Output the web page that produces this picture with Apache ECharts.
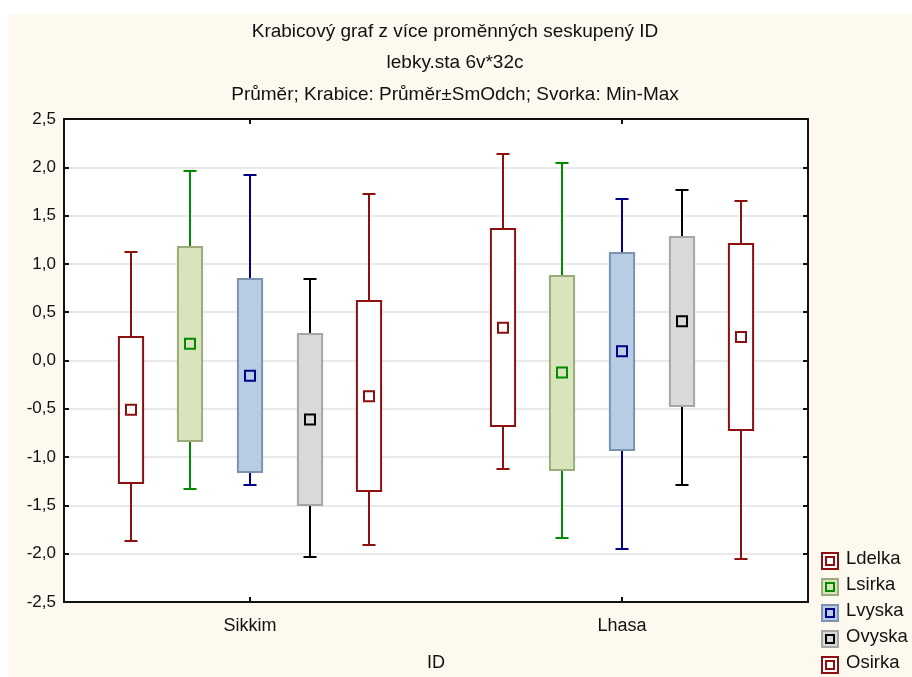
<!DOCTYPE html>
<html>
<head>
<meta charset="utf-8">
<script src="https://cdn.jsdelivr.net/npm/echarts@6/dist/echarts.min.js"></script>
<style>
  html, body { margin: 0; padding: 0; background: #fff; }
  #wrap { position: relative; width: 912px; height: 677px; background: #fff; overflow: hidden; }
  #panel { position: absolute; left: 8px; top: 14px; right: 0; bottom: 0; background: #fdf9ee; }
  #chart { position: absolute; left: 0; top: 0; width: 912px; height: 677px; }
</style>
</head>
<body>
<div id="wrap"><div id="panel"></div><div id="chart"></div></div>
<script>
// Groups on the x axis and the variables drawn inside each group
const categories = ['Sikkim', 'Lhasa'];
const variables = ['Ldelka', 'Lsirka', 'Lvyska', 'Ovyska', 'Osirka'];
const yTickLabels = ['-2,5', '-2,0', '-1,5', '-1,0', '-0,5', '0,0', '0,5', '1,0', '1,5', '2,0', '2,5'];

// Mean, standard deviation, minimum and maximum per group (Sikkim, Lhasa)
const ldelkaMean = [-0.511, 0.340];
const ldelkaSd   = [0.755, 1.018];
const ldelkaMin  = [-1.87, -1.12];
const ldelkaMax  = [1.12, 2.14];

const lsirkaMean = [0.174, -0.125];
const lsirkaSd   = [1.006, 1.004];
const lsirkaMin  = [-1.33, -1.84];
const lsirkaMax  = [1.96, 2.04];

const lvyskaMean = [-0.159, 0.096];
const lvyskaSd   = [0.998, 1.019];
const lvyskaMin  = [-1.29, -1.95];
const lvyskaMax  = [1.92, 1.67];

const ovyskaMean = [-0.611, 0.406];
const ovyskaSd   = [0.886, 0.874];
const ovyskaMin  = [-2.03, -1.29];
const ovyskaMax  = [0.84, 1.77];

const osirkaMean = [-0.369, 0.242];
const osirkaSd   = [0.980, 0.961];
const osirkaMin  = [-1.91, -2.05];
const osirkaMax  = [1.72, 1.65];

const stats = [
  [ldelkaMean, ldelkaSd, ldelkaMin, ldelkaMax],
  [lsirkaMean, lsirkaSd, lsirkaMin, lsirkaMax],
  [lvyskaMean, lvyskaSd, lvyskaMin, lvyskaMax],
  [ovyskaMean, ovyskaSd, ovyskaMin, ovyskaMax],
  [osirkaMean, osirkaSd, osirkaMin, osirkaMax]
];

// Per-variable styling: whisker / marker colour, box fill, box outline
const styles = [
  { line: '#8c1010', fill: '#ffffff', border: '#8c1010' },
  { line: '#008a00', fill: '#d8e4bc', border: '#9bab7b' },
  { line: '#00008b', fill: '#b8cce4', border: '#7a93b3' },
  { line: '#000000', fill: '#d9d9d9', border: '#a6a6a6' },
  { line: '#8c1010', fill: '#ffffff', border: '#8c1010' }
];

const FONT = 'Liberation Sans, Arial, sans-serif';
const chart = echarts.init(document.getElementById('chart'), null, { renderer: 'canvas' });

function makeRenderer(vi) {
  const st = styles[vi];
  return function (params, api) {
    const cat = api.value(0);
    const mean = api.value(1), sd = api.value(2), mn = api.value(3), mx = api.value(4);
    const band = api.size([1, 0])[0];
    const off = (vi - 2) * band * 0.16;
    const cx = Math.round(api.coord([cat, mean])[0] + off);
    const yMean = api.coord([cat, mean])[1];
    const yTop = Math.round(api.coord([cat, mean + sd])[1]);
    const yBot = Math.round(api.coord([cat, mean - sd])[1]);
    const yMax = Math.round(api.coord([cat, mx])[1]);
    const yMin = Math.round(api.coord([cat, mn])[1]);
    const bw = band * 0.065;
    const cap = band * 0.035;
    const lineStyle = { stroke: st.line, lineWidth: 2 };
    return {
      type: 'group',
      children: [
        { type: 'line', shape: { x1: cx, y1: yMax, x2: cx, y2: yTop }, style: lineStyle },
        { type: 'line', shape: { x1: cx - cap / 2, y1: yMax, x2: cx + cap / 2, y2: yMax }, style: lineStyle },
        { type: 'line', shape: { x1: cx, y1: yBot, x2: cx, y2: yMin }, style: lineStyle },
        { type: 'line', shape: { x1: cx - cap / 2, y1: yMin, x2: cx + cap / 2, y2: yMin }, style: lineStyle },
        { type: 'rect', shape: { x: cx - bw / 2, y: yTop, width: bw, height: yBot - yTop },
          style: { fill: st.fill, stroke: st.border, lineWidth: 2 } },
        { type: 'rect', shape: { x: cx - 5, y: yMean - 5, width: 10, height: 10 },
          style: { fill: st.fill, stroke: st.line, lineWidth: 2 } }
      ]
    };
  };
}

const series = variables.map(function (name, vi) {
  const s = stats[vi];
  return {
    name: name,
    type: 'custom',
    renderItem: makeRenderer(vi),
    encode: { x: 0, y: [1, 3, 4] },
    data: categories.map(function (c, ci) {
      return [ci, s[0][ci], s[1][ci], s[2][ci], s[3][ci]];
    }),
    z: 5
  };
});

// Legend drawn as graphic items: outer swatch plus inner mean marker
const legendGraphics = [];
variables.forEach(function (name, vi) {
  const st = styles[vi];
  const cy = 560 + vi * 26;
  legendGraphics.push({
    type: 'rect', left: 821, top: cy - 8,
    shape: { width: 16, height: 16 },
    style: { fill: st.fill, stroke: st.border, lineWidth: 2 }
  });
  legendGraphics.push({
    type: 'rect', left: 825, top: cy - 4,
    shape: { width: 8, height: 8 },
    style: { fill: st.fill, stroke: st.line, lineWidth: 2 }
  });
  legendGraphics.push({
    type: 'text', left: 846, top: cy - 11,
    style: { text: name, fill: '#111', font: '18.5px ' + FONT }
  });
});

const titleStyle = { fontFamily: FONT, fontSize: 19, fontWeight: 'normal', color: '#111', lineHeight: 22 };

chart.setOption({
  animation: false,
  backgroundColor: 'transparent',
  title: [
    { text: 'Krabicový graf z více proměnných seskupený ID', left: 455, textAlign: 'center', top: 21, padding: 0, textStyle: titleStyle },
    { text: 'lebky.sta 6v*32c', left: 455, textAlign: 'center', top: 52, padding: 0, textStyle: titleStyle },
    { text: 'Průměr; Krabice: Průměr±SmOdch; Svorka: Min-Max', left: 455, textAlign: 'center', top: 84, padding: 0, textStyle: titleStyle }
  ],
  grid: { left: 64, right: 104, top: 119, bottom: 74, show: true, backgroundColor: '#ffffff', borderWidth: 0 },
  xAxis: [
    {
      type: 'category', data: categories, position: 'bottom',
      name: 'ID', nameLocation: 'middle', nameGap: 52,
      nameTextStyle: { fontFamily: FONT, fontSize: 18, color: '#111' },
      axisLine: { onZero: false, lineStyle: { color: '#111', width: 2 } },
      axisTick: { show: true, alignWithLabel: true, inside: true, length: 5, lineStyle: { color: '#111', width: 2 } },
      axisLabel: { fontFamily: FONT, fontSize: 18, color: '#111', margin: 15 },
      splitLine: { show: false }
    },
    {
      type: 'category', data: categories, position: 'top',
      axisLine: { onZero: false, lineStyle: { color: '#111', width: 2 } },
      axisTick: { show: true, alignWithLabel: true, inside: true, length: 5, lineStyle: { color: '#111', width: 2 } },
      axisLabel: { show: false },
      splitLine: { show: false }
    }
  ],
  yAxis: [
    {
      type: 'value', min: -2.5, max: 2.5, interval: 0.5, position: 'left',
      axisLine: { show: true, onZero: false, lineStyle: { color: '#111', width: 2 } },
      axisTick: { show: true, inside: true, length: 5, lineStyle: { color: '#111', width: 2 } },
      axisLabel: {
        fontFamily: FONT, fontSize: 17, color: '#111', margin: 8,
        formatter: function (v) { return yTickLabels[Math.round((v + 2.5) / 0.5)]; }
      },
      splitLine: { show: true, lineStyle: { color: '#e2e2e2', width: 1.5 } }
    },
    {
      type: 'value', min: -2.5, max: 2.5, interval: 0.5, position: 'right',
      axisLine: { show: true, onZero: false, lineStyle: { color: '#111', width: 2 } },
      axisTick: { show: true, inside: true, length: 5, lineStyle: { color: '#111', width: 2 } },
      axisLabel: { show: false },
      splitLine: { show: false }
    }
  ],
  graphic: legendGraphics,
  series: series
});
</script>
</body>
</html>
